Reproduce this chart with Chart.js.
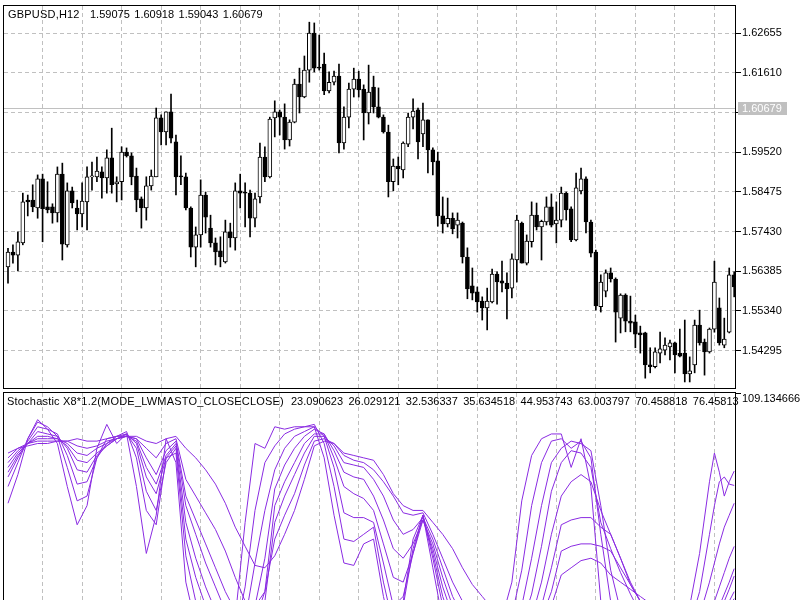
<!DOCTYPE html>
<html>
<head>
<meta charset="utf-8">
<script src="https://cdn.jsdelivr.net/npm/chart.js@4.4.0/dist/chart.umd.min.js"></script>
<style>
  html, body { margin: 0; padding: 0; background: #fff; }
  #wrap { position: relative; width: 800px; height: 600px; overflow: hidden; background: #fff; }
  #price { position: absolute; left: 0; top: 0; }
  #stoch { position: absolute; left: 0; top: 389px; }
</style>
</head>
<body>
<div id="wrap">
  <canvas id="price" width="800" height="389"></canvas>
  <canvas id="stoch" width="800" height="211"></canvas>
</div>
<script>
// GBPUSD H12 candles
var opens = [1.5650,1.5689,1.5681,1.5713,1.5826,1.5826,1.5805,1.5882,1.5808,1.5808,
  1.5792,1.5894,1.5708,1.5850,1.5805,1.5789,1.5821,1.5887,1.5887,1.5900,
  1.5884,1.5937,1.5868,1.5874,1.5952,1.5942,1.5889,1.5829,1.5805,1.5863,
  1.5887,1.6042,1.6005,1.6058,1.5979,1.5889,1.5887,1.5805,1.5702,1.5734,
  1.5839,1.5752,1.5713,1.5692,1.5663,1.5742,1.5726,1.5850,1.5847,1.5844,
  1.5778,1.5834,1.5939,1.5887,1.6042,1.6058,1.6044,1.5984,1.6031,1.6131,
  1.6097,1.6168,1.6265,1.6176,1.6184,1.6113,1.6136,1.6152,1.5976,1.6044,
  1.6118,1.6144,1.6118,1.6055,1.6123,1.6071,1.6044,1.6005,1.5874,1.5915,
  1.5905,1.5973,1.6044,1.6063,1.6000,1.6037,1.5958,1.5929,1.5784,1.5763,
  1.5778,1.5760,1.5765,1.5676,1.5600,1.5584,1.5560,1.5542,1.5558,1.5631,
  1.5613,1.5607,1.5594,1.5668,1.5765,1.5660,1.5716,1.5786,1.5755,1.5768,
  1.5808,1.5763,1.5773,1.5844,1.5803,1.5721,1.5850,1.5882,1.5768,1.5689,
  1.5545,1.5586,1.5634,1.5618,1.5515,1.5576,1.5507,1.5505,1.5476,1.5476,
  1.5392,1.5387,1.5423,1.5431,1.5439,1.5450,1.5423,1.5423,1.5368,1.5392,
  1.5497,1.5452,1.5426,1.5486,1.5542,1.5444,1.5478,1.5629];
var highs = [1.5699,1.5708,1.5742,1.5844,1.5839,1.5866,1.5892,1.5894,1.5874,1.5816,
  1.5913,1.5923,1.5871,1.5860,1.5826,1.5871,1.5913,1.5926,1.5939,1.5913,
  1.5958,1.6015,1.5887,1.5966,1.5963,1.5950,1.5910,1.5834,1.5887,1.5905,
  1.6068,1.6050,1.6058,1.6105,1.5997,1.5942,1.5897,1.5808,1.5755,1.5879,
  1.5847,1.5786,1.5726,1.5729,1.5773,1.5765,1.5871,1.5894,1.5871,1.5852,
  1.5844,1.5976,1.5966,1.6044,1.6087,1.6063,1.6079,1.6037,1.6144,1.6173,
  1.6205,1.6294,1.6292,1.6260,1.6213,1.6163,1.6165,1.6184,1.6071,1.6134,
  1.6173,1.6165,1.6129,1.6181,1.6152,1.6121,1.6050,1.6023,1.5934,1.5939,
  1.5979,1.6055,1.6092,1.6068,1.6081,1.6037,1.5963,1.5952,1.5834,1.5831,
  1.5792,1.5792,1.5768,1.5700,1.5647,1.5597,1.5571,1.5594,1.5644,1.5637,
  1.5665,1.5634,1.5684,1.5786,1.5768,1.5734,1.5821,1.5818,1.5773,1.5834,
  1.5842,1.5821,1.5860,1.5847,1.5808,1.5897,1.5910,1.5887,1.5773,1.5694,
  1.5629,1.5642,1.5647,1.5621,1.5579,1.5579,1.5573,1.5523,1.5494,1.5478,
  1.5437,1.5437,1.5478,1.5463,1.5457,1.5452,1.5486,1.5510,1.5413,1.5510,
  1.5536,1.5460,1.5489,1.5665,1.5568,1.5515,1.5647,1.5637];
var lows = [1.5607,1.5660,1.5639,1.5708,1.5784,1.5795,1.5778,1.5716,1.5792,1.5765,
  1.5768,1.5668,1.5702,1.5805,1.5747,1.5755,1.5747,1.5852,1.5874,1.5831,
  1.5844,1.5844,1.5821,1.5826,1.5939,1.5866,1.5795,1.5752,1.5773,1.5852,
  1.5887,1.5971,1.5971,1.5976,1.5839,1.5866,1.5800,1.5676,1.5650,1.5702,
  1.5739,1.5702,1.5655,1.5650,1.5660,1.5702,1.5694,1.5805,1.5755,1.5729,
  1.5755,1.5818,1.5874,1.5884,1.5992,1.5997,1.5960,1.5968,1.6029,1.6055,
  1.6095,1.6136,1.6163,1.6168,1.6103,1.6108,1.6129,1.5950,1.5960,1.6016,
  1.6097,1.6097,1.5984,1.6026,1.6055,1.6042,1.6002,1.5834,1.5850,1.5866,
  1.5884,1.5966,1.6013,1.5934,1.5966,1.5897,1.5892,1.5757,1.5739,1.5755,
  1.5737,1.5726,1.5660,1.5566,1.5563,1.5531,1.5510,1.5484,1.5555,1.5552,
  1.5584,1.5513,1.5568,1.5610,1.5660,1.5655,1.5702,1.5747,1.5668,1.5760,
  1.5755,1.5713,1.5755,1.5773,1.5716,1.5718,1.5842,1.5739,1.5676,1.5536,
  1.5531,1.5571,1.5610,1.5452,1.5476,1.5479,1.5479,1.5437,1.5423,1.5357,
  1.5371,1.5384,1.5397,1.5418,1.5405,1.5371,1.5413,1.5347,1.5347,1.5371,
  1.5444,1.5365,1.5423,1.5478,1.5444,1.5437,1.5476,1.5571];
var closes = [1.5689,1.5681,1.5716,1.5821,1.5821,1.5808,1.5882,1.5803,1.5800,1.5792,
  1.5894,1.5710,1.5850,1.5818,1.5789,1.5823,1.5887,1.5889,1.5902,1.5884,
  1.5937,1.5866,1.5874,1.5952,1.5942,1.5887,1.5826,1.5805,1.5863,1.5889,
  1.6042,1.6005,1.6058,1.5989,1.5887,1.5887,1.5805,1.5702,1.5734,1.5839,
  1.5781,1.5713,1.5689,1.5676,1.5742,1.5726,1.5850,1.5844,1.5844,1.5778,
  1.5829,1.5939,1.5887,1.6039,1.6058,1.6044,1.5984,1.6031,1.6131,1.6097,
  1.6168,1.6265,1.6173,1.6173,1.6113,1.6136,1.6152,1.5976,1.6044,1.6118,
  1.6144,1.6116,1.6055,1.6110,1.6071,1.6044,1.6005,1.5874,1.5915,1.5908,
  1.5976,1.6044,1.6060,1.5979,1.6037,1.5958,1.5926,1.5784,1.5763,1.5778,
  1.5750,1.5773,1.5676,1.5592,1.5581,1.5558,1.5542,1.5560,1.5631,1.5610,
  1.5607,1.5592,1.5671,1.5773,1.5660,1.5718,1.5786,1.5755,1.5770,1.5808,
  1.5760,1.5773,1.5844,1.5800,1.5721,1.5858,1.5882,1.5768,1.5686,1.5547,
  1.5610,1.5634,1.5618,1.5531,1.5576,1.5507,1.5502,1.5473,1.5471,1.5392,
  1.5387,1.5426,1.5434,1.5444,1.5450,1.5418,1.5415,1.5368,1.5376,1.5497,
  1.5450,1.5426,1.5486,1.5610,1.5450,1.5460,1.5629,1.5597];

var priceTicks = [1.54295, 1.55340, 1.56385, 1.57430, 1.58475, 1.59520, 1.60565, 1.61610, 1.62655];
var lastPrice = 1.60679;
var symbolName = 'GBPUSD,H12';
var quote = ['1.59075', '1.60918', '1.59043', '1.60679'];

// stochastic x8 lines (fast -> slow), sampled at these bars
var stochX = [0,2,4,6,8,10,12,14,16,18,20,22,24,26,28,30,32,34,36,38,
  40,42,44,46,48,50,52,54,56,58,60,62,64,66,68,70,72,74,76,78,
  80,82,84,86,88,90,92,94,96,98,100,102,104,106,108,110,112,114,116,118,
  120,122,124,126,128,130,132,134,136,138,140,142,143,144,145,146,147];
var stoch1 = [63,75,90,98,94,88,70,54,62,86,96,88,92,70,42,58,90,80,30,12,
  6,4,8,15,55,88,86,95,94,95,95,95,82,58,38,37,46,48,24,6,
  22,48,58,36,14,6,4,2,2,8,15,30,64,83,90,92,92,78,90,70,
  22,10,8,6,4,3,8,20,22,20,42,72,84,76,66,72,76.46];
var stoch2 = [70,80,90,97,95,91,78,64,66,82,90,91,93,82,60,54,82,84,41,22,
  10,6,5,8,28,60,80,87,92,94,95,96,88,70,48,47,50,53,30,12,
  20,44,58,40,20,9,4,3,2,4,8,16,35,62,80,89,90,86,89,82,
  50,22,12,8,5,3,4,8,12,12,26,50,62,72,74,71,70.46];
var stoch3 = [74,82,89,95,94,92,83,71,72,82,88,91,92,86,68,60,80,86,48,32,
  20,11,7,6,14,38,60,77,86,91,93,95,91,78,59,57,57,55,38,20,
  24,42,58,42,24,12,6,4,3,3,5,9,20,40,62,80,86,89,88,85,
  62,35,18,10,7,5,4,5,7,9,16,30,38,46,53,58,63.00];
var stoch4 = [76,83,88,93,92,91,86,77,76,83,87,90,92,88,74,67,82,87,55,40,
  28,18,11,8,10,20,40,69,79,86,91,94,92,82,70,67,65,60,46,32,
  30,42,56,44,28,16,9,5,4,4,4,6,12,25,45,68,80,85,84,78,
  55,44,34,25,17,10,7,5,6,7,10,17,22,28,34,40,44.95];
var stoch5 = [78,84,88,91,91,90,87,81,80,84,87,90,91,89,78,71,83,88,62,50,
  38,28,18,12,10,14,26,62,72,80,88,92,92,85,76,74,73,66,56,44,
  40,46,56,46,32,20,12,8,6,6,5,5,8,15,30,50,66,72,75,72,
  60,50,40,30,22,15,10,7,6,6,8,12,16,20,25,30,35.63];
var stoch6 = [80,85,88,90,90,90,88,84,83,86,88,90,91,90,82,75,85,89,66,56,
  46,36,26,18,14,15,22,55,66,75,84,91,91,87,80,79,78,73,66,56,
  50,52,57,48,36,24,16,12,10,9,8,6,7,11,20,36,54,56,57,57,
  53,50,40,29,22,17,12,9,8,6,7,10,13,17,22,27,32.54];
var stoch7 = [82,86,88,89,89,89,89,87,86,87,89,90,91,90,86,82,88,90,73,66,
  59,52,43,32,22,20,26,48,58,67,79,89,90,88,83,81,80,77,72,66,
  59,58,59,50,40,30,22,18,15,13,11,9,8,10,15,26,43,45,46,46,
  45,43,36,29,22,17,14,11,9,7,7,8,10,13,17,22,26.03];
var stoch8 = [84,86,87,88,88,89,89,90,89,89,90,91,91,91,89,88,90,91,86,82,
  77,71,63,53,45,37,36,41,50,60,73,87,89,88,84,83,82,81,75,67,
  62,60,60,55,50,44,36,29,24,19,15,12,11,11,13,20,33,36,39,40,
  38,33,30,27,24,21,18,14,11,9,9,10,11,13,16,20,23.09];
var stochName = 'Stochastic X8*1.2(MODE_LWMASTO_CLOSECLOSE)';
var stochLast = ['23.090623', '26.029121', '32.536337', '35.634518', '44.953743', '63.003797', '70.458818', '76.45813'];
var stochTop = 109.134666;

var FONT = "'Liberation Sans', Arial, sans-serif";
var GRID = '#c0c0c0';
var STOCH = '#8a2be2';

// vertical grid every 8 bars
var gridBars = [];
for (var g = 7; g <= 147; g += 8) gridBars.push(g);

var candleIdx = opens.map(function (o, i) { return i; });
function isUp(i) { return closes[i] >= opens[i]; }

function xScale() {
  return {
    type: 'linear', min: -0.81, max: 147.37, offset: false,
    ticks: { display: false },
    grid: { color: GRID, drawTicks: false, offset: false },
    border: { display: false, dash: [4, 3] },
    afterBuildTicks: function (s) { s.ticks = gridBars.map(function (v) { return { value: v }; }); },
    afterFit: function (s) { s.height = 0; s.paddingLeft = 0; s.paddingRight = 0; }
  };
}

function frame(ctx, a) {
  ctx.strokeStyle = '#000';
  ctx.lineWidth = 1;
  ctx.strokeRect(a.left - 0.5, a.top - 0.5, a.right - a.left, a.bottom - a.top + 1);
}

var pricePanel = {
  id: 'pricePanel',
  beforeDatasetsDraw: function (chart) {
    var ctx = chart.ctx, a = chart.chartArea;
    var py = Math.round(chart.scales.y.getPixelForValue(lastPrice)) + 0.5;
    ctx.save();
    ctx.strokeStyle = GRID;
    ctx.lineWidth = 1;
    ctx.beginPath();
    ctx.moveTo(a.left, py);
    ctx.lineTo(a.right, py);
    ctx.stroke();
    ctx.restore();
  },
  afterDraw: function (chart) {
    var ctx = chart.ctx, a = chart.chartArea;
    ctx.save();
    frame(ctx, a);
    var py = Math.round(chart.scales.y.getPixelForValue(lastPrice));
    ctx.fillStyle = GRID;
    ctx.fillRect(a.right + 2, py - 6, 49, 13);
    ctx.font = '11px ' + FONT;
    ctx.textBaseline = 'middle';
    ctx.fillStyle = '#fff';
    ctx.fillText(lastPrice.toFixed(5), a.right + 6, py + 1);
    ctx.fillStyle = '#000';
    ctx.letterSpacing = '0.2px';
    ctx.fillText(symbolName, 8, 15);
    ctx.letterSpacing = '0px';
    var x = 90;
    quote.forEach(function (q) {
      ctx.fillText(q, x, 15);
      x += ctx.measureText(q).width + 4.5;
    });
    ctx.restore();
  }
};

new Chart(document.getElementById('price'), {
  type: 'bar',
  data: {
    datasets: [{
      label: 'wick',
      data: candleIdx.map(function (i) { return { x: i, y: [lows[i], highs[i]] }; }),
      backgroundColor: '#000',
      barThickness: 1,
      minBarLength: 1,
      grouped: false,
      order: 2
    }, {
      label: 'body',
      data: candleIdx.map(function (i) { return { x: i, y: [opens[i], closes[i]] }; }),
      backgroundColor: function (c) { return isUp(c.dataIndex) ? '#ffffff' : '#000000'; },
      borderColor: '#000',
      borderWidth: 1,
      borderSkipped: false,
      barThickness: 4,
      minBarLength: 1,
      grouped: false,
      order: 1
    }]
  },
  options: {
    responsive: false,
    animation: false,
    events: [],
    layout: { padding: { left: 4, top: 6, right: 0, bottom: 1 } },
    plugins: { legend: { display: false }, tooltip: { enabled: false } },
    scales: {
      x: xScale(),
      y: {
        type: 'linear', position: 'right', min: 1.53311, max: 1.63366, beginAtZero: false,
        afterBuildTicks: function (s) { s.ticks = priceTicks.map(function (v) { return { value: v }; }); },
        afterFit: function (s) { s.width = 64; s.paddingTop = 0; s.paddingBottom = 0; },
        ticks: { color: '#000', font: { family: FONT, size: 11 }, padding: 1, autoSkip: false,
          callback: function (v) { return Number(v).toFixed(5); } },
        grid: { color: GRID, tickColor: '#000', tickLength: 5, tickBorderDash: [] },
        border: { display: false, dash: [4, 3] }
      }
    }
  },
  plugins: [pricePanel]
});

var stochPanel = {
  id: 'stochPanel',
  afterDraw: function (chart) {
    var ctx = chart.ctx, a = chart.chartArea;
    ctx.save();
    frame(ctx, a);
    ctx.font = '11px ' + FONT;
    ctx.textBaseline = 'middle';
    ctx.fillStyle = '#000';
    ctx.letterSpacing = '0.2px';
    ctx.fillText(stochName, 7, 13);
    ctx.letterSpacing = '0px';
    var x = 291;
    stochLast.forEach(function (v) {
      ctx.fillText(v, x, 13);
      x += ctx.measureText(v).width + 5.4;
    });
    ctx.restore();
  }
};

var stochSeries = [stoch1, stoch2, stoch3, stoch4, stoch5, stoch6, stoch7, stoch8];

new Chart(document.getElementById('stoch'), {
  type: 'line',
  data: {
    datasets: stochSeries.map(function (vals, n) {
      return {
        label: 'Stoch ' + (n + 1),
        data: stochX.map(function (x, k) { return { x: x, y: vals[k] }; }),
        borderColor: STOCH,
        borderWidth: 1,
        pointRadius: 0,
        tension: 0,
        fill: false
      };
    })
  },
  options: {
    responsive: false,
    animation: false,
    events: [],
    layout: { padding: { left: 4, top: 4, right: 0, bottom: 0 } },
    plugins: { legend: { display: false }, tooltip: { enabled: false } },
    scales: {
      x: xScale(),
      y: {
        type: 'linear', position: 'right', min: 22.52, max: stochTop,
        afterBuildTicks: function (s) { s.ticks = [{ value: stochTop }]; },
        afterFit: function (s) { s.width = 64; s.paddingTop = 0; s.paddingBottom = 0; },
        ticks: { color: '#000', font: { family: FONT, size: 11 }, padding: 1, align: 'start',
          callback: function () { return stochTop.toFixed(6); } },
        grid: { drawOnChartArea: false, tickColor: '#000', tickLength: 5 },
        border: { display: false }
      }
    }
  },
  plugins: [stochPanel]
});
</script>
</body>
</html>
